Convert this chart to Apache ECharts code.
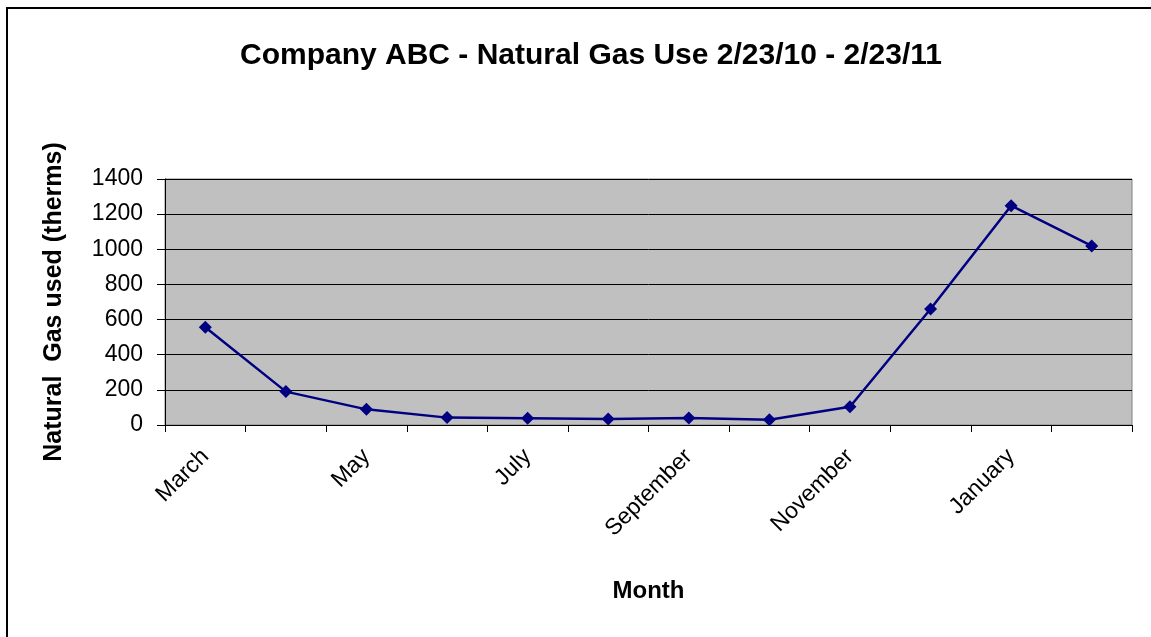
<!DOCTYPE html>
<html><head><meta charset="utf-8">
<script src="https://cdn.jsdelivr.net/npm/echarts@6/dist/echarts.min.js"></script>
<style>html,body{margin:0;padding:0;background:#fff}#c{width:1151px;height:637px}</style>
</head><body><div id="c"></div>
<script>
const months = ['March','April','May','June','July','August','September','October','November','December','January','February'];
const gasUsed = [556, 190, 89, 42, 38, 34, 40, 30, 104, 660, 1248, 1019];
const yMin = 0, yMax = 1400, yStep = 200;

const chart = echarts.init(document.getElementById('c'), null, {renderer:'canvas'});
const FF = '"Liberation Sans", Arial, sans-serif';
chart.setOption({
  animation:false,
  backgroundColor:'#fff',
  title:{text:'Company ABC - Natural Gas Use 2/23/10 - 2/23/11', left:586, textAlign:'center', top:36,
    textStyle:{fontFamily:FF, fontSize:30, fontWeight:'bold', color:'#000'}},
  graphic:[{type:'polyline', shape:{points:[[7,700],[7,8],[1200,8]]}, style:{stroke:'#000', lineWidth:2, fill:null}}],
  grid:{left:165, right:19, top:179, bottom:212, show:true, backgroundColor:'#c0c0c0', borderColor:'#808080', borderWidth:1},
  xAxis:{type:'category', data:months, boundaryGap:true,
    name:'Month', nameLocation:'middle', nameGap:154,
    nameTextStyle:{fontFamily:FF, fontSize:24, fontWeight:'bold', color:'#000'},
    axisLine:{lineStyle:{color:'#000', width:1}},
    axisTick:{show:true, length:7, interval:0, lineStyle:{color:'#000'}},
    axisLabel:{interval:1, rotate:45, fontFamily:FF, fontSize:23, color:'#000', margin:28},
    splitLine:{show:false}},
  yAxis:{type:'value', min:yMin, max:yMax, interval:yStep,
    name:'Natural  Gas used (therms)', nameLocation:'middle', nameGap:98, nameRotate:90,
    nameTextStyle:{fontFamily:FF, fontSize:25, fontWeight:'bold', color:'#000'},
    axisLine:{show:true, lineStyle:{color:'#000', width:1}},
    axisTick:{show:true, length:8, lineStyle:{color:'#000'}},
    axisLabel:{fontFamily:FF, fontSize:23, color:'#000', margin:22, formatter:v => String(v)},
    splitLine:{show:true, lineStyle:{color:'#000', width:1}}},
  series:[{type:'line', data:gasUsed, symbol:'diamond', symbolSize:13,
    lineStyle:{color:'#000080', width:2.5}, itemStyle:{color:'#000080'}}]
});
</script></body></html>
